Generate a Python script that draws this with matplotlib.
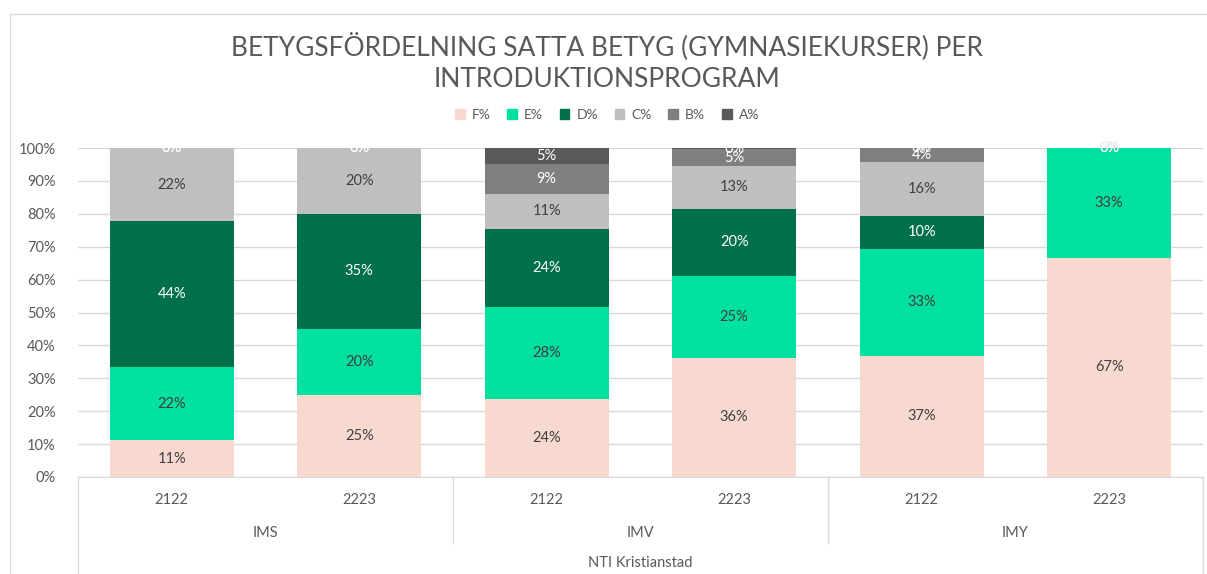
import matplotlib
matplotlib.use("Agg")
import matplotlib.pyplot as plt
from matplotlib.lines import Line2D
from matplotlib.patches import Patch
import numpy as np

plt.rcParams['font.family'] = ['Lato', 'DejaVu Sans']

years = ["2122", "2223", "2122", "2223", "2122", "2223"]
programs = ["IMS", "IMV", "IMY"]
school = "NTI Kristianstad"

grades = ["F%", "E%", "D%", "C%", "B%", "A%"]
f_pct = [11.1, 25.0, 23.8, 36.2, 36.8, 66.7]
e_pct = [22.2, 20.0, 27.9, 24.9, 32.6, 33.3]
d_pct = [44.4, 35.0, 23.8, 20.4, 10.0, 0.0]
c_pct = [22.3, 20.0, 10.6, 13.1, 16.3, 0.0]
b_pct = [0.0, 0.0, 9.1, 5.0, 4.3, 0.0]
a_pct = [0.0, 0.0, 4.8, 0.4, 0.0, 0.0]

colors = ["#f8d9d0", "#00e09e", "#00704a", "#bfbfbf", "#7f7f7f", "#595959"]
label_colors = ["#404040", "#404040", "white", "#404040", "white", "white"]
txt = "#595959"

fig = plt.figure(figsize=(12.07, 5.74), dpi=100)
ax = fig.add_axes([0.0646, 0.169, 0.932, 0.573])

x = np.arange(len(years))
bottom = np.zeros(len(years))
series = [f_pct, e_pct, d_pct, c_pct, b_pct, a_pct]
for vals, col, lc, name in zip(series, colors, label_colors, grades):
    vals = np.array(vals)
    ax.bar(x, vals, 0.66, bottom=bottom, color=col, label=name, zorder=2)
    for xi, v, b in zip(x, vals, bottom):
        ax.text(xi, b + v / 2, f"{v:.0f}%", ha="center", va="center",
                fontsize=10.5, color=lc, zorder=3)
    bottom += vals

ax.set_xlim(-0.5, 5.5)
ax.set_ylim(0, 100)
ax.set_yticks(range(0, 101, 10))
ax.set_yticklabels([f"{t}%" for t in range(0, 101, 10)], fontsize=10.5, color=txt)
ax.tick_params(axis="y", length=0, pad=16)
ax.set_xticks([])
ax.yaxis.grid(True, color="#d9d9d9", linewidth=1, zorder=0)
for s in ["top", "right", "left"]:
    ax.spines[s].set_visible(False)
ax.spines["bottom"].set_color("#d9d9d9")

# multi-level category axis
tr = ax.get_xaxis_transform()
for xv, y_end in [(-0.5, -0.3), (1.5, -0.2), (3.5, -0.2), (5.5, -0.3)]:
    ax.add_line(Line2D([xv, xv], [0, y_end], transform=tr, color="#d9d9d9",
                       linewidth=1, clip_on=False))
for xi, yr in zip(x, years):
    ax.text(xi, -0.07, yr, transform=tr, ha="center", va="center", fontsize=10.5, color=txt)
for i, p in enumerate(programs):
    ax.text(2 * i + 0.5, -0.17, p, transform=tr, ha="center", va="center", fontsize=10.5, color=txt)
ax.text(2.5, -0.262, school, transform=tr, ha="center", va="center", fontsize=10.5, color=txt)

fig.suptitle("BETYGSFÖRDELNING SATTA BETYG (GYMNASIEKURSER) PER\nINTRODUKTIONSPROGRAM",
             x=0.503, y=0.945, fontsize=19, color=txt, linespacing=1.35)

handles = [Patch(color=c) for c in colors]
fig.legend(handles, grades, loc="center", bbox_to_anchor=(0.503, 0.8), ncol=6,
           frameon=False, fontsize=10, labelcolor=txt, handlelength=0.7,
           handleheight=0.7, handletextpad=0.5, columnspacing=1.2)

# outer chart frame (left and top edges visible)
fig.add_artist(Line2D([10 / 1207, 10 / 1207], [0, 1 - 14 / 574], color="#d9d9d9", linewidth=1))
fig.add_artist(Line2D([10 / 1207, 1], [1 - 14 / 574, 1 - 14 / 574], color="#d9d9d9", linewidth=1))

fig.savefig("out.png", dpi=100)
